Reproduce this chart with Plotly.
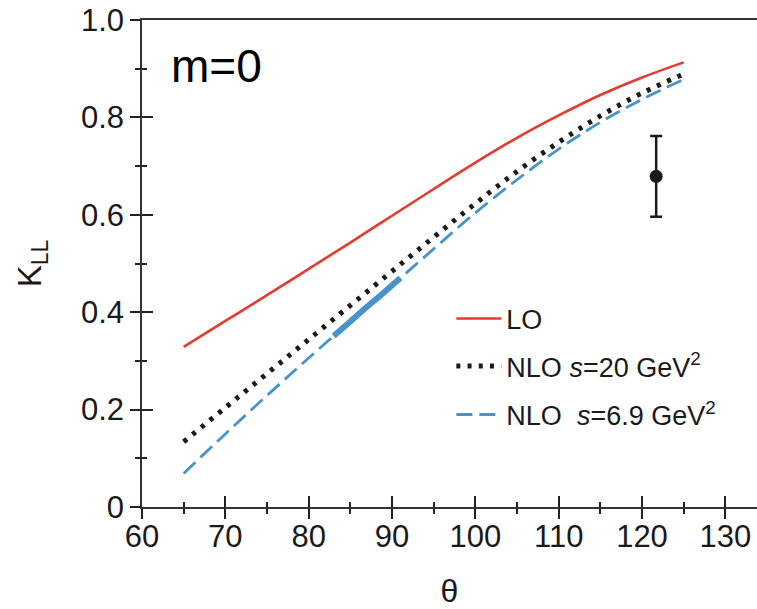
import plotly.graph_objects as go

theta = [65, 70, 75, 80, 85, 90, 95, 100, 105, 110, 115, 120, 125]
k_lo = [0.329, 0.382, 0.435, 0.489, 0.543, 0.598, 0.653, 0.707, 0.758, 0.804, 0.846, 0.882, 0.913]
k_nlo20 = [0.134, 0.204, 0.274, 0.344, 0.414, 0.484, 0.554, 0.623, 0.689, 0.749, 0.803, 0.850, 0.889]
k_nlo69 = [0.069, 0.150, 0.229, 0.306, 0.381, 0.455, 0.530, 0.604, 0.672, 0.735, 0.790, 0.837, 0.878]

theta_thick = [83, 85, 87, 89, 91]
k_thick = [0.351, 0.381, 0.411, 0.440, 0.470]

theta_data = [121.7]
k_data = [0.679]
k_err = [0.083]

xtick_vals = [60, 70, 80, 90, 100, 110, 120, 130]
xtick_text = ["60", "70", "80", "90", "100", "110", "120", "130"]
ytick_vals = [0, 0.2, 0.4, 0.6, 0.8, 1.0]
ytick_text = ["0", "0.2", "0.4", "0.6", "0.8", "1.0"]

RED = "#e53a2e"
BLUE = "#4893cc"
INK = "#1a1a1a"
FONT = "Liberation Sans"

fig = go.Figure()
fig.add_trace(go.Scatter(x=theta, y=k_lo, mode="lines", name="LO",
                         line=dict(color=RED, width=2.6, shape="spline"), legend="legend"))
fig.add_trace(go.Scatter(x=theta, y=k_nlo20, mode="lines",
                         name="NLO <i>s</i>=20 GeV<sup>2</sup>",
                         line=dict(color=INK, width=5, dash="4px,7.2px", shape="spline"),
                         legend="legend2"))
fig.add_trace(go.Scatter(x=theta, y=k_nlo69, mode="lines",
                         name="NLO  <i>s</i>=6.9 GeV<sup>2</sup>",
                         line=dict(color=BLUE, width=2.8, dash="16px,7px", shape="spline"),
                         legend="legend3"))
fig.add_trace(go.Scatter(x=theta_thick, y=k_thick, mode="lines", showlegend=False,
                         line=dict(color=BLUE, width=6, shape="spline")))
fig.add_trace(go.Scatter(x=theta_data, y=k_data, mode="markers", showlegend=False,
                         xaxis="x2", yaxis="y2",
                         marker=dict(color=INK, size=13),
                         error_y=dict(type="data", array=k_err, thickness=2.5, width=6, color=INK)))

xr = [60, 133.8]
yr = [0, 1.0]
axis_common = dict(tickcolor="#222", tickwidth=1.5, showgrid=False, zeroline=False, automargin=False)

leg_common = dict(bgcolor="rgba(0,0,0,0)", xanchor="left", yanchor="middle", itemwidth=45,
                  font=dict(family=FONT, size=27, color=INK))

LEGX = 0.503

fig.update_layout(
    width=757, height=609,
    margin=dict(l=142, r=0, t=20, b=102, autoexpand=False),
    paper_bgcolor="white", plot_bgcolor="white",
    font=dict(family=FONT, color=INK),
    xaxis=dict(range=xr, tickvals=xtick_vals, ticktext=xtick_text, ticks="outside", ticklen=10,
               minor=dict(ticks="outside", ticklen=5, dtick=5, tickcolor="#222", tickwidth=1.5),
               showline=True, linecolor="#333", linewidth=1.5, mirror=True,
               tickfont=dict(family=FONT, size=31, color=INK), ticklabelstandoff=-9,
               title=dict(text="θ", font=dict(family=FONT, size=32, color=INK), standoff=38),
               **axis_common),
    yaxis=dict(range=yr, tickvals=ytick_vals, ticktext=ytick_text, ticks="outside", ticklen=10,
               minor=dict(ticks="outside", ticklen=5, dtick=0.1, tickcolor="#222", tickwidth=1.5),
               showline=True, linecolor="#333", linewidth=1.5,
               tickfont=dict(family=FONT, size=31, color=INK),
               title=dict(text="K<sub>LL</sub>", font=dict(family=FONT, size=33, color=INK), standoff=29),
               **axis_common),
    xaxis2=dict(range=xr, overlaying="x", anchor="y2", tickvals=xtick_vals, ticks="inside", ticklen=11,
                minor=dict(ticks="inside", ticklen=5, dtick=5, tickcolor="#222", tickwidth=1.5),
                showticklabels=False, showline=False, **axis_common),
    yaxis2=dict(range=yr, overlaying="y", anchor="x2", tickvals=ytick_vals, ticks="inside", ticklen=11,
                minor=dict(ticks="inside", ticklen=5, dtick=0.1, tickcolor="#222", tickwidth=1.5),
                showticklabels=False, showline=False, **axis_common),
    legend=dict(x=LEGX, y=0.386, **leg_common),
    legend2=dict(x=LEGX, y=0.2885, **leg_common),
    legend3=dict(x=LEGX, y=0.189, **leg_common),
    annotations=[dict(text="m=0", xref="paper", yref="paper", x=(216.7 - 142) / 615,
                      y=(507 - 65.8) / 487, xanchor="center", yanchor="middle", showarrow=False,
                      font=dict(family=FONT, size=46, color="#000"))],
)

fig.write_html("out.html")
